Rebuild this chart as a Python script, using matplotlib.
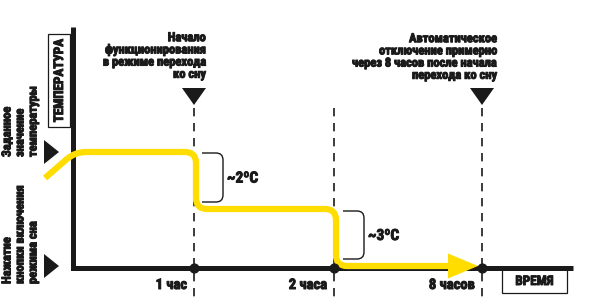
import matplotlib.pyplot as plt
import matplotlib.patheffects as pe
import numpy as np
from matplotlib.path import Path
from matplotlib.patches import PathPatch, Polygon, Rectangle

# schematic diagram, coordinates in pixels of a 600x299 canvas (y grows downward)
tick_x = [194, 334, 482]
tick_labels = ['1 час', '2 часа', '8 часов']
axis_origin = (73, 268)
axis_end_x = 573
axis_top_y = 27

# temperature curve corner points
curve_x = [45, 75, 196, 196, 336, 336, 452]
curve_y = [178, 152, 152, 209, 209, 266, 266]

delta_labels = ['~2ºC', '~3ºC']
brace_x = [202, 343]
brace_top = [153, 211]
brace_bottom = [202, 259]

note1 = 'Начало\nфункционирования\nв режиме перехода\nко сну'
note2 = 'Автоматическое\nотключение примерно\nчерез 8 часов после начала\nперехода ко сну'
left_top = 'Заданное\nзначение\nтемпературы'
left_bottom = 'Нажатие\nкнопки включения\nрежима сна'

YELLOW = '#FFDD00'
INK = '#1a1a1a'
FONT = ['Roboto Condensed', 'Archivo Narrow', 'Oswald', 'DejaVu Sans']
W = 'bold'
# thicken the glyphs a little, the original uses a heavy condensed face
HEAVY = [pe.withStroke(linewidth=0.7, foreground=INK)]

fig = plt.figure(figsize=(6, 2.99), dpi=100)
ax = fig.add_axes([0, 0, 1, 1])
ax.set_xlim(0, 600)
ax.set_ylim(299, 0)
ax.axis('off')


def rounded_path(xs, ys, r=10):
    verts = [(xs[0], ys[0])]
    codes = [Path.MOVETO]
    for i in range(1, len(xs) - 1):
        p0 = np.array([xs[i - 1], ys[i - 1]], float)
        p1 = np.array([xs[i], ys[i]], float)
        p2 = np.array([xs[i + 1], ys[i + 1]], float)
        d1 = (p1 - p0) / np.linalg.norm(p1 - p0)
        d2 = (p2 - p1) / np.linalg.norm(p2 - p1)
        a = p1 - d1 * r
        b = p1 + d2 * r
        verts += [tuple(a), tuple(p1), tuple(b)]
        codes += [Path.LINETO, Path.CURVE3, Path.CURVE3]
    verts.append((xs[-1], ys[-1]))
    codes.append(Path.LINETO)
    return Path(verts, codes)


def label(x, y, s, size, **kw):
    ax.text(x, y, s, fontsize=size, family=FONT, weight=W, color=INK,
            path_effects=HEAVY, **kw)


# dashed guides
ax.vlines(tick_x, 108, 299, colors=INK, linestyles=(0, (5, 4)), lw=1.2, zorder=1)

# axes lines
ox, oy = axis_origin
ax.plot([ox, ox, axis_end_x], [axis_top_y, oy, oy], color=INK, lw=3.6,
        solid_joinstyle='miter', solid_capstyle='butt', zorder=2)

# curve
ax.add_patch(PathPatch(rounded_path(curve_x, curve_y, 11), fill=False, edgecolor=YELLOW,
                       lw=4.5, capstyle='butt', zorder=3))
ex, ey = curve_x[-1], curve_y[-1]
ax.add_patch(Polygon([(ex - 4, ey - 12.5), (ex - 4, ey + 12.5), (ex + 26, ey)],
                     closed=True, facecolor=YELLOW, edgecolor='none', zorder=3))

# tick dots and labels
ax.scatter(tick_x, [oy] * len(tick_x), s=40, color=INK, zorder=4)
for x, lab in zip(tick_x, tick_labels):
    label(x - 7, 285, lab, 10.5, ha='right', va='center')

# top markers
for x in [tick_x[0], tick_x[2]]:
    ax.add_patch(Polygon([(x - 12, 88), (x + 12, 88), (x, 105)], closed=True,
                         facecolor=INK, edgecolor='none'))
# left markers
for y in [152, 266]:
    ax.add_patch(Polygon([(44, y - 12), (44, y + 12), (59, y)], closed=True,
                         facecolor=INK, edgecolor='none'))

label(206, 56, note1, 9, ha='right', va='center', multialignment='right', linespacing=0.92)
label(497, 57, note2, 9, ha='right', va='center', multialignment='right', linespacing=0.92)

label(20, 157, left_top, 9, ha='center', va='bottom', rotation=90,
      multialignment='left', linespacing=1.0)
label(20, 284, left_bottom, 9, ha='center', va='bottom', rotation=90,
      multialignment='left', linespacing=1.0)

# boxed axis titles
ax.add_patch(Rectangle((48, 34), 22, 93, fill=False, edgecolor=INK, lw=0.9))
label(59.5, 80.5, 'ТЕМПЕРАТУРА', 9.5, ha='center', va='center', rotation=90)
ax.add_patch(Rectangle((502, 269), 65, 24, fill=False, edgecolor=INK, lw=0.9))
label(534.5, 281.5, 'ВРЕМЯ', 9.5, ha='center', va='center')

# braces for temperature drops
for bx, t, b, lab in zip(brace_x, brace_top, brace_bottom, delta_labels):
    w = 21
    r = 7
    verts = [(bx, t), (bx + w - r, t), (bx + w, t), (bx + w, t + r),
             (bx + w, b - r), (bx + w, b), (bx + w - r, b), (bx, b)]
    codes = [Path.MOVETO, Path.LINETO, Path.CURVE3, Path.CURVE3,
             Path.LINETO, Path.CURVE3, Path.CURVE3, Path.LINETO]
    ax.add_patch(PathPatch(Path(verts, codes), fill=False, edgecolor=INK, lw=1.0))
    label(bx + w + 4, (t + b) / 2 + 1, lab, 11, ha='left', va='center')

fig.savefig('out.png', dpi=100)
